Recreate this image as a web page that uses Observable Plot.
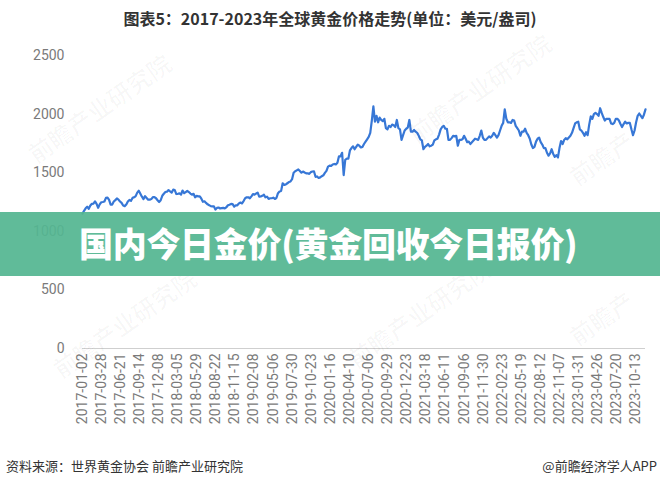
<!DOCTYPE html>
<html><head><meta charset="utf-8">
<script src="https://cdn.jsdelivr.net/npm/d3@7"></script>
<script src="https://cdn.jsdelivr.net/npm/@observablehq/plot@0.6"></script>
<style>
body{margin:0;background:#fff;}
#root{position:relative;width:660px;height:488px;overflow:hidden;font-family:"Noto Sans CJK SC","Noto Sans",sans-serif;background:#fff;}
#title{position:absolute;top:7px;left:0;width:660px;text-align:center;font-size:16px;line-height:22px;font-weight:bold;color:#333;}
#chart{position:absolute;top:0;left:0;}
.wm{position:absolute;color:rgba(0,0,0,0.028);font-size:24px;font-weight:bold;transform:rotate(-35deg);white-space:nowrap;}
#banner{position:absolute;left:0;top:212px;width:660px;height:64px;background:rgba(84,182,145,0.93);}
#banner span{position:absolute;left:79px;top:0;line-height:62px;font-size:34px;font-weight:900;color:#fff;white-space:nowrap;letter-spacing:-0.3px;}
#src{position:absolute;left:6px;top:457px;font-size:13px;line-height:18px;color:#333;}
#app{position:absolute;right:3px;top:457px;font-size:13px;line-height:18px;color:#333;}
</style></head>
<body><div id="root">
<div id="title">图表5：2017-2023年全球黄金价格走势(单位：美元/盎司)</div>
<div id="chart"></div>
<div class="wm" style="left:15px;top:90px;">前瞻产业研究院</div>
<div class="wm" style="left:395px;top:70px;">前瞻产业研究院</div>
<div class="wm" style="left:565px;top:140px;">前瞻产</div>
<div class="wm" style="left:40px;top:305px;">前瞻产业研究院</div>
<div class="wm" style="left:335px;top:295px;">前瞻产业研究院</div>
<div class="wm" style="left:565px;top:300px;">前瞻产</div>
<div id="banner"><span>国内今日金价(黄金回收今日报价)</span></div>
<div id="src">资料来源：世界黄金协会 前瞻产业研究院</div>
<div id="app">@前瞻经济学人APP</div>
</div>
<script>
// Weekly gold prices (USD/oz), one value per week starting Monday 2017-01-02
const startDate = "2017-01-02";
const y2017 = [1151,1175,1196,1210,1192, 1220,1234,1236,1255, 1234,1201,1230,1248,1250, 1254,1285,1288,1268, 1228,1228,1254,1266, 1280,1270,1254,1242, 1220,1215,1228,1254,1268, 1260,1285,1290,1300, 1330,1346,1320,1295, 1275,1300,1285,1270,1270, 1275,1292,1292,1282, 1265,1250,1265,1303];
const y2018 = [1320,1335,1338,1352,1340, 1330,1355,1352,1318, 1320,1324,1314,1348,1325, 1335,1345,1335,1322, 1312,1320,1290,1302, 1298,1298,1278,1252, 1256,1242,1230,1223,1215, 1213,1213,1185,1200,1203, 1195,1198,1200,1196, 1205,1222,1227,1234, 1232,1210,1222,1222, 1238,1245,1238,1258,1282];
const y2019 = [1290,1290,1282,1298, 1318,1313,1322,1330, 1295,1298,1303,1312, 1290,1295,1276,1282, 1282,1287,1276,1284, 1325,1340,1345,1410, 1395,1400,1410,1420,1425, 1445,1500,1512,1520,1528, 1515,1500,1510,1502, 1495,1495,1490,1505,1510, 1512,1465,1468,1455, 1460,1470,1478,1498,1515];
const y2020 = [1552,1560,1558,1570, 1575,1570,1585,1640, 1640,1670,1480,1610,1620, 1620,1690,1710,1725, 1700,1720,1740,1730, 1715,1720,1745,1765, 1785,1805,1840,1945, 2067,1935,1985,1930,1970, 1950,1940,1960,1880,1870, 1900,1890,1910,1905, 1890,1950,1880,1870,1780, 1820,1860,1875,1885];
const y2021 = [1950,1850,1850,1865,1850, 1840,1815,1785,1775, 1700,1720,1730,1745,1725, 1730,1740,1775,1785, 1790,1825,1870,1890, 1900,1875,1875,1780, 1780,1795,1815,1810,1815, 1730,1780,1780,1785, 1815,1790,1760,1765, 1745,1760,1775,1790,1785, 1780,1815,1860,1800, 1780,1780,1795,1810];
const y2022 = [1800,1815,1840,1820, 1800,1820,1860,1900, 1925,2040,1960,1930,1930, 1925,1950,1945,1900, 1880,1860,1815,1850, 1850,1875,1840,1820, 1790,1740,1710,1720,1765, 1790,1800,1760,1740, 1710,1710,1670,1645, 1665,1700,1660,1635,1650, 1630,1710,1770,1745, 1780,1795,1785,1800,1815];
const y2023 = [1840,1880,1920,1930,1935, 1870,1860,1840,1815, 1845,1820,1910,1980,1960, 2000,2010,2000,1985, 2050,2010,1975,1945, 1960,1960,1960,1920, 1915,1925,1960,1960, 1945,1915,1890,1915, 1935,1920,1925,1925,1870, 1820,1860,1930,1985,2005, 1985,1965,1995,2040];
const yTicks = [0,500,1000,1500,2000,2500];
const xTickLabels = ["2017-01-02","2017-03-28","2017-06-21","2017-09-14","2017-12-08","2018-03-05","2018-05-29","2018-08-22","2018-11-15","2019-02-08","2019-05-06","2019-07-30","2019-10-23","2020-01-16","2020-04-10","2020-07-06","2020-09-29","2020-12-23","2021-03-18","2021-06-11","2021-09-06","2021-11-30","2022-02-23","2022-05-19","2022-08-12","2022-11-07","2023-01-31","2023-04-26","2023-07-20","2023-10-13"];

const values = [...y2017, ...y2018, ...y2019, ...y2020, ...y2021, ...y2022, ...y2023];
const t0 = d3.utcParse("%Y-%m-%d")(startDate);
const data = values.map((v, i) => ({date: d3.utcDay.offset(t0, 7 * i), price: v}));
const tickDates = xTickLabels.map(d3.utcParse("%Y-%m-%d"));
const fmt = d3.utcFormat("%Y-%m-%d");

const chart = Plot.plot({
  width: 660,
  height: 450,
  marginTop: 55,
  marginBottom: 102,
  marginLeft: 82,
  marginRight: 15,
  style: {fontFamily: "Roboto, 'Noto Sans', sans-serif", fontSize: "14px", color: "#7a7a7a", background: "transparent"},
  x: {type: "utc", domain: [data[0].date, data[data.length - 1].date], ticks: tickDates, tickFormat: fmt, tickRotate: -90, tickSize: 0, tickPadding: 5, label: null},
  y: {domain: [0, 2500], ticks: yTicks, tickFormat: d3.format("d"), tickSize: 0, tickPadding: 18, label: null},
  marks: [
    Plot.ruleY([0], {stroke: "#cfcfcf", strokeWidth: 1}),
    Plot.line(data, {x: "date", y: "price", stroke: "#3777d6", strokeWidth: 2.2, curve: "linear"})
  ]
});
document.getElementById("chart").appendChild(chart);
</script>
</body></html>
